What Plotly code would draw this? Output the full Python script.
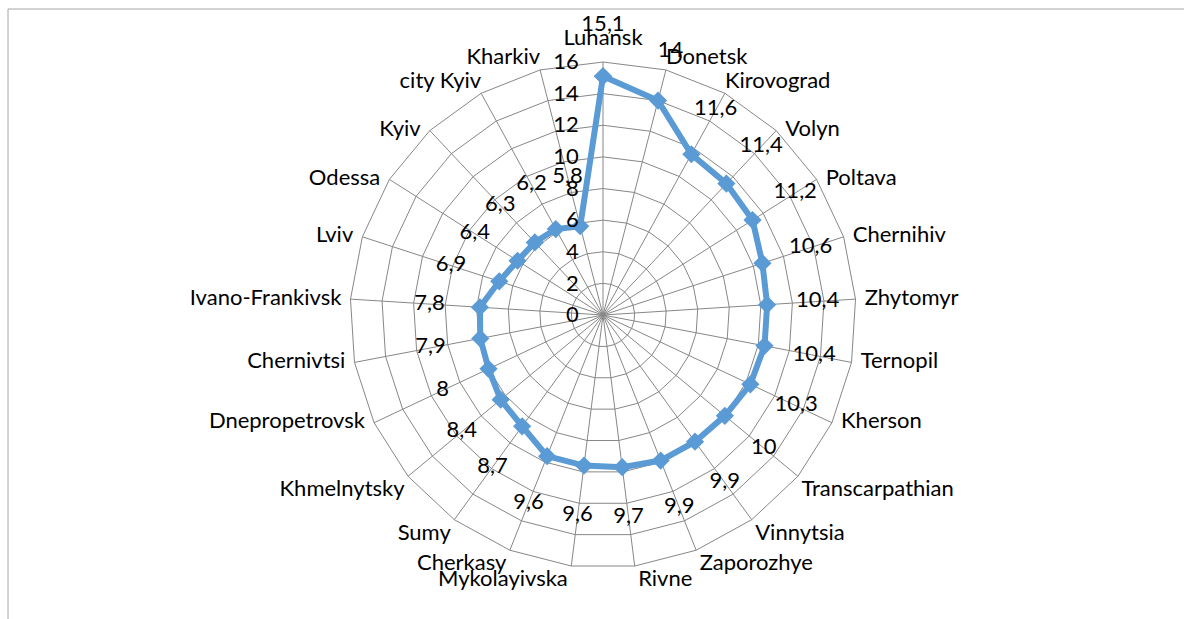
import plotly.graph_objects as go

# Regions, clockwise from the top
regions = [
    "Luhansk", "Donetsk", "Kirovograd", "Volyn", "Poltava", "Chernihiv",
    "Zhytomyr", "Ternopil", "Kherson", "Transcarpathian", "Vinnytsia",
    "Zaporozhye", "Rivne", "Mykolayivska", "Cherkasy", "Sumy",
    "Khmelnytsky", "Dnepropetrovsk", "Chernivtsi", "Ivano-Frankivsk",
    "Lviv", "Odessa", "Kyiv", "city Kyiv", "Kharkiv",
]
values = [
    15.1, 14, 11.6, 11.4, 11.2, 10.6,
    10.4, 10.4, 10.3, 10, 9.9,
    9.9, 9.7, 9.6, 9.6, 8.7,
    8.4, 8, 7.9, 7.8,
    6.9, 6.4, 6.3, 6.2, 5.8,
]
radial_ticks = [0, 2, 4, 6, 8, 10, 12, 14, 16]

BLUE = "#5B9BD5"
GRID = "#878787"
FONT = "Lato"
FSIZE = 22


def fmt(v):
    s = f"{v:g}"
    return s.replace(".", ",")


def category_anchor(i, n):
    """Text anchor and spacing for a category name, by spoke direction.

    The spacing is given as the size of an invisible marker, which is
    what plotly uses to keep text away from its point.
    """
    a = 360.0 * i / n
    if a == 0:
        return "top center", 17
    side = "right" if a < 180 else "left"
    a = a if a < 180 else 360 - a
    if a < 35:
        return f"top {side}", 0
    if a < 122:
        return f"middle {side}", 13
    return f"bottom {side}", 4


anchors = [category_anchor(i, len(regions)) for i in range(len(regions))]

labels = [fmt(v) for v in values]
label_shift = 3.2  # data labels sit just outside each point

W, H = 1184, 619
cx, cy = 603, 315
RMAX = 16
R = 253                 # pixel radius of the chart's outer ring
RMAX2 = 19              # wider overlay so labels beyond the ring stay visible
R2 = R * RMAX2 / RMAX


def domain(radius):
    return dict(x=[(cx - radius) / W, (cx + radius) / W],
                y=[(H - cy - radius) / H, (H - cy + radius) / H])


fig = go.Figure()

# closed series line with diamond markers
fig.add_trace(go.Scatterpolar(
    r=values + values[:1],
    theta=regions + regions[:1],
    mode="lines+markers",
    line=dict(color=BLUE, width=6),
    marker=dict(symbol="diamond", size=14, color=BLUE),
    hoverinfo="skip",
    showlegend=False,
    cliponaxis=False,
    subplot="polar",
))

# value labels on a transparent overlay with the same scale per pixel
fig.add_trace(go.Scatterpolar(
    r=[v + label_shift for v in values],
    theta=regions,
    mode="text",
    text=labels,
    textfont=dict(family=FONT, size=FSIZE, color="#000000"),
    textposition="middle center",
    hoverinfo="skip",
    showlegend=False,
    cliponaxis=False,
    subplot="polar2",
))

# category names anchored at the outer ring's corners
fig.add_trace(go.Scatterpolar(
    r=[RMAX] * len(regions),
    theta=regions,
    mode="markers+text",
    marker=dict(size=[s for _, s in anchors], opacity=0),
    text=regions,
    textfont=dict(family=FONT, size=FSIZE, color="#000000"),
    textposition=[p for p, _ in anchors],
    hoverinfo="skip",
    showlegend=False,
    cliponaxis=False,
    subplot="polar2",
))

fig.update_layout(
    width=W, height=H,
    margin=dict(l=0, r=0, t=0, b=0),
    paper_bgcolor="white",
    plot_bgcolor="white",
    font=dict(family=FONT, size=FSIZE, color="#000000"),
    polar=dict(
        domain=domain(R),
        bgcolor="white",
        gridshape="linear",
        angularaxis=dict(
            type="category",
            categoryarray=regions,
            direction="clockwise",
            rotation=90,
            showline=True,
            linecolor=GRID,
            linewidth=1,
            showgrid=True,
            gridcolor=GRID,
            gridwidth=1,
            ticks="",
            showticklabels=False,
        ),
        radialaxis=dict(
            range=[0, RMAX],
            tickvals=radial_ticks,
            ticktext=[str(t) for t in radial_ticks],
            angle=90,
            tickangle=90,
            side="counterclockwise",
            showline=False,
            showgrid=True,
            gridcolor=GRID,
            gridwidth=1,
            ticks="outside",
            ticklen=16,
            tickcolor="rgba(0,0,0,0)",
            tickfont=dict(family=FONT, size=FSIZE, color="#000000"),
        ),
    ),
    polar2=dict(
        domain=domain(R2),
        bgcolor="rgba(0,0,0,0)",
        angularaxis=dict(
            type="category",
            categoryarray=regions,
            direction="clockwise",
            rotation=90,
            showline=False,
            showgrid=False,
            showticklabels=False,
            ticks="",
        ),
        radialaxis=dict(
            range=[0, RMAX2],
            visible=False,
        ),
    ),
    shapes=[
        dict(type="line", xref="paper", yref="paper",
             x0=8 / W, x1=1.2, y0=1 - 9 / H, y1=1 - 9 / H,
             line=dict(color="#A6A6A6", width=1)),
        dict(type="line", xref="paper", yref="paper",
             x0=8 / W, x1=8 / W, y0=1 - 9 / H, y1=-0.2,
             line=dict(color="#A6A6A6", width=1)),
    ],
)

fig.write_html("out.html")
